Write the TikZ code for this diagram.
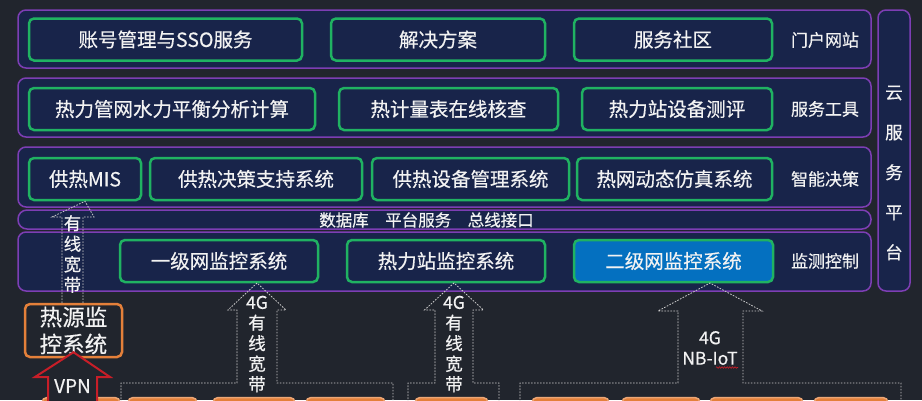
\documentclass[tikz,border=0pt]{standalone}
\usepackage{fontspec}
\setmainfont{Noto Sans CJK SC}[AutoFakeBold=0.4]
\usetikzlibrary{decorations.pathmorphing}
\definecolor{bgc}{RGB}{33,37,45}
\definecolor{navy}{RGB}{24,36,74}
\definecolor{purp}{RGB}{125,62,180}
\definecolor{grn}{RGB}{32,178,98}
\definecolor{blu}{RGB}{4,112,192}
\definecolor{orng}{RGB}{228,128,58}
\definecolor{redc}{RGB}{200,30,40}
\definecolor{txt}{RGB}{242,242,242}
\begin{document}
\begin{tikzpicture}[x=1pt,y=-1pt,
  panel/.style={draw=purp, line width=1.5pt, fill=navy, rounded corners=8pt, inner sep=0pt},
  gbox/.style={draw=grn, line width=2.5pt, fill=navy, rounded corners=5pt, text=txt, inner sep=0pt,
    font=\bfseries\fontsize{19.5}{22}\selectfont, minimum height=42pt},
  lbl/.style={text=txt, font=\bfseries\fontsize{17}{20}\selectfont, inner sep=0pt},
  vtxt/.style={text=txt, font=\bfseries\fontsize{17.5}{20.5}\selectfont, align=center, inner sep=0pt},
  flow/.style={draw=white!80!black, dash pattern=on 1.6pt off 1.4pt, line width=0.8pt},
  obox/.style={draw=orng!70!white, line width=1.5pt, fill=orng, rounded corners=5pt}]
\fill[bgc] (0,0) rectangle (922,400);
\useasboundingbox (0,0) rectangle (922,400);

% panels
\node[panel, minimum width=853pt, minimum height=58pt] (p1) at (444.5,39) {};
\node[panel, minimum width=853pt, minimum height=59pt] (p2) at (444.5,107.5) {};
\node[panel, minimum width=853pt, minimum height=60pt] (p3) at (444.5,177) {};
\node[panel, minimum width=853pt, minimum height=19pt, rounded corners=9pt] (p4) at (444.5,219.5) {};
\node[panel, minimum width=853pt, minimum height=59pt] (p5) at (444.5,261.5) {};
\node[panel, minimum width=32pt, minimum height=281pt] (cloud) at (894,150.5) {};
\node[vtxt, font=\bfseries\fontsize{17.5}{40}\selectfont] (cloudt) at (894,173) {云\\服\\务\\平\\台};

% row 1
\node[gbox, minimum width=273pt] (a1) at (165.5,39.5) {账号管理与SSO服务};
\node[gbox, minimum width=214pt] (a2) at (438,39.5) {解决方案};
\node[gbox, minimum width=198pt] (a3) at (673,39.5) {服务社区};
\node[lbl] (l1) at (825,40) {门户网站};
% row 2
\node[gbox, minimum width=286pt] (b1) at (172,109) {热力管网水力平衡分析计算};
\node[gbox, minimum width=219pt] (b2) at (448.5,109) {热计量表在线核查};
\node[gbox, minimum width=190pt] (b3) at (677,109) {热力站设备测评};
\node[lbl] (l2) at (825,109) {服务工具};
% row 3
\node[gbox, minimum width=112pt] (c1) at (85,179) {供热MIS};
\node[gbox, minimum width=212pt] (c2) at (256,179) {供热决策支持系统};
\node[gbox, minimum width=197pt] (c3) at (470.5,179) {供热设备管理系统};
\node[gbox, minimum width=195pt] (c4) at (674.5,179) {热网动态仿真系统};
\node[lbl] (l3) at (825,179) {智能决策};
% bar
\node[lbl, font=\bfseries\fontsize{16.5}{20}\selectfont] (bar) at (426.5,220) {数据库\quad 平台服务\quad 总线接口};
% row 5
\node[gbox, minimum width=198pt] (d1) at (219,261) {一级网监控系统};
\node[gbox, minimum width=198pt] (d2) at (446,261) {热力站监控系统};
\node[gbox, minimum width=199pt, fill=blu] (d3) at (673.5,261) {二级网监控系统};
\node[lbl] (l5) at (825,261) {监测控制};

% heat source box
\node[draw=orng, line width=2.5pt, fill=bgc, rounded corners=5pt, minimum width=97pt, minimum height=53pt,
  text=txt, align=center, inner sep=0pt, font=\bfseries\fontsize{22.5}{27}\selectfont] (hs) at (73.5,330.5) {热源监\\控系统};

% bottom orange boxes (cut by the frame)
\foreach \xa/\xb [count=\i] in {42/120,128/197,213/295,306/385,415/488,532/609,622/700,710/803,814/888}
  \draw[obox] (\xa,397.5) rectangle (\xb,425);

% arrow heat source -> MIS
\coordinate (t0) at (c1.south);
\draw[flow] (62,303) -- (62,217) -- (52,217) -- (t0) -- (94,217) -- (83,217) -- (83,303);
\node[vtxt] (v0) at (72.5,254) {有\\线\\宽\\带};

% VPN arrow
\coordinate (tv) at ([yshift=6pt]hs.south);
\draw[draw=redc, line width=2pt, fill=bgc, line join=miter] (48,402) -- (48,377) -- (35,377) -- (tv) -- (110,377) -- (97,377) -- (97,402);
\node[text=txt, font=\bfseries\fontsize{19}{20}\selectfont, inner sep=0pt] (vpn) at (72.5,386) {VPN};

% group 1 arrow
\coordinate (t1) at (257,283);
\draw[flow] (121,402) -- (121,383) -- (237,383) -- (237,310) -- (228,310) -- (t1) -- (286,310) -- (277,310) -- (277,383) -- (393,383) -- (393,402);
\node[vtxt] (v1) at (257,344) {4G\\有\\线\\宽\\带};

% group 2 arrow
\coordinate (t2) at (454,283);
\draw[flow] (408,402) -- (408,383) -- (435,383) -- (435,310) -- (424.5,310) -- (t2) -- (483.5,310) -- (473,310) -- (473,383) -- (499,383) -- (499,402);
\node[vtxt] (v2) at (454,344) {4G\\有\\线\\宽\\带};

% group 3 arrow
\coordinate (t3) at (710,283);
\draw[flow] (520,402) -- (520,383) -- (678,383) -- (678,311) -- (658,311) -- (t3) -- (762,311) -- (743,311) -- (743,383) -- (901,383) -- (901,402);
\node[vtxt] (v3) at (710,348) {4G\\NB-IoT};
\draw[redc, line width=0.6pt, decorate, decoration={snake, amplitude=0.8pt, segment length=2.6pt}] (716,367.5) -- (738,367.5);
\end{tikzpicture}
\end{document}
